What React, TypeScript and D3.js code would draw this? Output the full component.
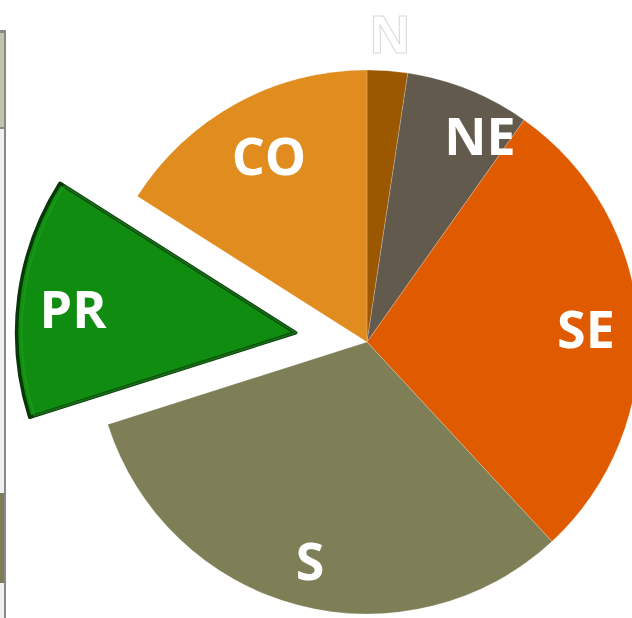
import React, { useEffect, useRef } from "react";
import * as d3 from "d3";

// regions, share of total (%)
const regions = ["N", "NE", "SE", "S", "PR", "CO"];
const shares = [2.4, 7.4, 28.3, 32.0, 13.9, 16.0];
const colors = ["#9c5800", "#635a4e", "#e05a00", "#7e7f56", "#108c10", "#e08c1e"];

const App = () => {
  const ref = useRef<SVGSVGElement | null>(null);

  useEffect(() => {
    const width = 632;
    const height = 618;
    const cx = 367;
    const cy = 342;
    const radius = 272;
    const prRadius = 279;
    const explode = 72;

    const svg = d3.select(ref.current);
    svg.selectAll("*").remove();

    // frame bits on the left edge
    svg.append("rect").attr("x", 0).attr("y", 30).attr("width", 6).attr("height", height - 30).attr("fill", "#f0f0f0");
    svg.append("rect").attr("x", 0).attr("y", 33).attr("width", 4).attr("height", 94).attr("fill", "#c2c3a9");
    svg.append("rect").attr("x", 0).attr("y", 493).attr("width", 4).attr("height", 90).attr("fill", "#7e7f56");
    svg.append("rect").attr("x", 0).attr("y", 30).attr("width", 6).attr("height", 3).attr("fill", "#888");
    svg.append("rect").attr("x", 0).attr("y", 127).attr("width", 6).attr("height", 2).attr("fill", "#888");
    svg.append("rect").attr("x", 4).attr("y", 30).attr("width", 2).attr("height", height - 30).attr("fill", "#888");

    const data = regions.map((r, i) => ({ region: r, value: shares[i], color: colors[i] }));
    const pie = d3.pie<any>().sort(null).value((d) => d.value);
    const arcs = pie(data);
    const arc = d3.arc<any>().innerRadius(0).outerRadius((d: any) => (d.data.region === "PR" ? prRadius : radius));

    const g = svg.append("g").attr("transform", `translate(${cx},${cy})`);

    const offset = (d: any) => {
      if (d.data.region !== "PR") return [0, 0];
      const a = (d.startAngle + d.endAngle) / 2;
      return [Math.sin(a) * explode, -Math.cos(a) * explode];
    };

    g.selectAll("path.slice")
      .data(arcs)
      .join("path")
      .attr("class", "slice")
      .attr("d", arc)
      .attr("transform", (d) => `translate(${offset(d)[0]},${offset(d)[1]})`)
      .attr("fill", (d) => d.data.color)
      .attr("stroke", (d) => (d.data.region === "PR" ? "#083808" : "#ffffff"))
      .attr("stroke-opacity", (d) => (d.data.region === "PR" ? 1 : 0.35))
      .attr("stroke-width", (d) => (d.data.region === "PR" ? 3.5 : 0.6))
      .attr("stroke-linejoin", "round");

    // soft inner highlight on the exploded slice
    const prArc = arcs.find((d) => d.data.region === "PR");
    if (prArc) {
      const o = offset(prArc);
      g.append("path")
        .attr("d", d3.arc<any>().innerRadius(0).outerRadius(prRadius - 5)(prArc))
        .attr("transform", `translate(${o[0]},${o[1]})`)
        .attr("fill", "none")
        .attr("stroke", "#22a322")
        .attr("stroke-opacity", 0.5)
        .attr("stroke-width", 2);
    }

    // labels
    const labelPos: Record<string, [number, number]> = {
      N: [390, 53],
      NE: [480, 155],
      SE: [586, 348],
      S: [310, 580],
      PR: [73, 328],
      CO: [269, 175],
    };

    svg
      .append("g")
      .selectAll("text")
      .data(regions)
      .join("text")
      .attr("x", (d) => labelPos[d][0])
      .attr("y", (d) => labelPos[d][1])
      .attr("text-anchor", "middle")
      .style("font-family", "'Open Sans', sans-serif")
      .style("font-weight", 700)
      .style("font-size", "52px")
      .attr("fill", "#ffffff")
      .attr("stroke", (d) => (d === "N" ? "#d8d8d8" : "none"))
      .attr("stroke-width", 1)
      .text((d) => d);
  }, []);

  return (
    <svg
      ref={ref}
      width={632}
      height={618}
      style={{ position: "absolute", left: 0, top: 0, background: "#fff" }}
    />
  );
};

export default App;
